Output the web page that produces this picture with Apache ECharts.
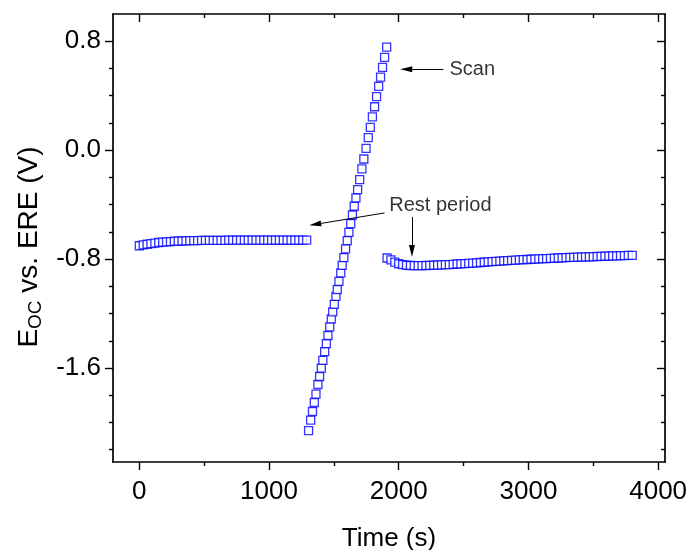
<!DOCTYPE html>
<html>
<head>
<meta charset="utf-8">
<script src="https://cdn.jsdelivr.net/npm/echarts@6/dist/echarts.min.js"></script>
<style>
html,body{margin:0;padding:0;background:#fff;}
#chart{width:691px;height:550px;}
</style>
</head>
<body>
<div id="chart"></div>
<script>
// ---- Data ----
const rest1Time = [0,30,60,90,120,150,180,210,240,270,300,330,360,390,420,450,480,510,540,570,600,630,660,690,720,750,780,810,840,870,900,930,960,990,1020,1050,1080,1110,1140,1170,1200,1230,1260,1290];
const rest1E = [-0.702,-0.696,-0.691,-0.686,-0.682,-0.678,-0.675,-0.673,-0.671,-0.669,-0.668,-0.667,-0.666,-0.665,-0.664,-0.664,-0.663,-0.663,-0.663,-0.662,-0.662,-0.662,-0.662,-0.661,-0.661,-0.661,-0.661,-0.661,-0.661,-0.660,-0.660,-0.660,-0.660,-0.660,-0.660,-0.660,-0.660,-0.660,-0.660,-0.660,-0.660,-0.660,-0.660,-0.660];

const scanTime = [1305,1321,1335,1349,1362,1377,1390,1403,1415,1429,1442,1454,1468,1480,1491,1503,1516,1526,1539,1553,1564,1577,1590,1603,1616,1630,1643,1657,1670,1683,1699,1716,1731,1748,1765,1781,1797,1814,1829,1845,1860,1875,1891,1907];
const scanE = [-2.059,-1.983,-1.919,-1.853,-1.792,-1.721,-1.662,-1.601,-1.543,-1.479,-1.420,-1.361,-1.298,-1.239,-1.188,-1.132,-1.073,-1.024,-0.963,-0.901,-0.846,-0.789,-0.725,-0.664,-0.603,-0.539,-0.476,-0.412,-0.351,-0.290,-0.217,-0.138,-0.065,0.013,0.092,0.167,0.244,0.319,0.393,0.468,0.537,0.608,0.681,0.757];

const rest2Time = [1910,1940,1970,2000,2030,2060,2090,2120,2150,2180,2210,2240,2270,2300,2330,2360,2390,2420,2450,2480,2510,2540,2570,2600,2630,2660,2690,2720,2750,2780,2810,2840,2870,2900,2930,2960,2990,3020,3050,3080,3110,3140,3170,3200,3230,3260,3290,3320,3350,3380,3410,3440,3470,3500,3530,3560,3590,3620,3650,3680,3710,3740,3770,3800];
const rest2E = [-0.792,-0.806,-0.822,-0.834,-0.841,-0.845,-0.847,-0.848,-0.848,-0.848,-0.847,-0.846,-0.845,-0.844,-0.843,-0.841,-0.840,-0.838,-0.836,-0.835,-0.833,-0.831,-0.829,-0.827,-0.825,-0.823,-0.821,-0.819,-0.817,-0.815,-0.813,-0.811,-0.809,-0.808,-0.806,-0.804,-0.803,-0.801,-0.800,-0.798,-0.797,-0.796,-0.794,-0.793,-0.792,-0.791,-0.789,-0.788,-0.787,-0.786,-0.785,-0.784,-0.783,-0.782,-0.781,-0.780,-0.779,-0.778,-0.777,-0.776,-0.775,-0.774,-0.773,-0.772];

// ---- Tick values ----
const xMajorTicks = [0,1000,2000,3000,4000];
const xMinorTicks = [500,1500,2500,3500];
const yMajorTicks = [-1.6,-0.8,0,0.8];
const yMinorTicks = [-2.2,-2.0,-1.8,-1.4,-1.2,-1.0,-0.6,-0.4,-0.2,0.2,0.4,0.6];

// ---- Annotations ----
const annotTexts = ['Scan','Rest period'];
const annotTextPos = [[2391,0.594],[1927,-0.407]];
const arrowLines = [
  [[2344,0.594],[2058,0.594]],
  [[1890,-0.461],[1356,-0.545]],
  [[2102,-0.490],[2102,-0.740]]
];

const X_MIN = -203, X_MAX = 4053, Y_MIN = -2.29, Y_MAX = 1.0;
const FONT = 'Liberation Sans, Arial, Helvetica, sans-serif';
const zip = (a,b) => a.map((v,i)=>[v,b[i]]);

function xAxisDef(pos, ticks, len, inside, main, labels) {
  return {
    type:'value', position:pos, min:X_MIN, max:X_MAX,
    axisLine:{show:main, onZero:false, lineStyle:{color:'#000', width:1.7}},
    axisTick:{show:true, inside:inside, length:len, customValues:ticks, lineStyle:{color:'#000', width:1.4}},
    axisLabel:{show:labels, customValues:ticks, fontSize:26, fontFamily:FONT, color:'#000', margin:17, formatter:v=>String(v)},
    splitLine:{show:false}
  };
}
function yAxisDef(pos, ticks, len, inside, main, labels) {
  return {
    type:'value', position:pos, min:Y_MIN, max:Y_MAX,
    axisLine:{show:main, onZero:false, lineStyle:{color:'#000', width:1.7}},
    axisTick:{show:true, inside:inside, length:len, customValues:ticks, lineStyle:{color:'#000', width:1.4}},
    axisLabel:{show:labels, customValues:ticks, fontSize:26, fontFamily:FONT, color:'#000', margin:12, formatter:v=>v.toFixed(1)},
    splitLine:{show:false}
  };
}

const xb = xAxisDef('bottom', xMajorTicks, 8, false, true, true);
xb.name = 'Time (s)';
xb.nameLocation = 'middle';
xb.nameGap = 64;
xb.nameTextStyle = {fontSize:26, fontFamily:FONT, color:'#000'};

const yl = yAxisDef('left', yMajorTicks, 8, false, true, true);
yl.name = '{m|E}{s|OC}{m| vs. ERE (V)}';
yl.nameLocation = 'middle';
yl.nameRotate = 90;
yl.nameGap = 68;
yl.nameTextStyle = {fontSize:28, fontFamily:FONT, color:'#000', padding:[0,18,0,0],
  rich:{
    m:{fontSize:28, fontFamily:FONT, color:'#000', lineHeight:32},
    s:{fontSize:19, fontFamily:FONT, color:'#000', lineHeight:17, verticalAlign:'bottom'}
  }};

const markerStyle = {color:'#fff', borderColor:'#0000ff', borderWidth:1.3};
function dataSeries(name, t, e) {
  return {
    name, type:'scatter', xAxisIndex:0, yAxisIndex:0,
    symbol:'rect', symbolSize:8, itemStyle:markerStyle,
    data: zip(t, e), animation:false, silent:true
  };
}

const arrowPath = 'path://M5,0 L10,20 L0,20 Z';

const option = {
  animation:false,
  backgroundColor:'#fff',
  grid:{left:113, right:26, top:14, bottom:88, outerBoundsMode:'none'},
  xAxis:[
    xb,
    xAxisDef('bottom', xMinorTicks, 4, false, false, false),
    xAxisDef('top', xMajorTicks, 8, true, true, false),
    xAxisDef('top', xMinorTicks, 4, true, false, false)
  ],
  yAxis:[
    yl,
    yAxisDef('left', yMinorTicks, 4, false, false, false),
    yAxisDef('right', yMajorTicks, 8, true, true, false),
    yAxisDef('right', yMinorTicks, 4, true, false, false)
  ],
  series:[
    dataSeries('Rest 1', rest1Time, rest1E),
    dataSeries('Scan', scanTime, scanE),
    dataSeries('Rest 2', rest2Time, rest2E),
    {
      name:'annot', type:'scatter', xAxisIndex:0, yAxisIndex:0,
      symbolSize:0, silent:true, animation:false,
      data: annotTextPos.map((p,i)=>({value:[p[0],p[1]], label:{formatter:annotTexts[i]}})),
      label:{show:true, position:'right', distance:0, fontSize:20, fontFamily:FONT, color:'#000'},
      markLine:{
        silent:true, animation:false,
        symbol:['none', arrowPath], symbolSize:[0,12],
        lineStyle:{color:'#000', width:1, type:'solid'},
        label:{show:false},
        data: arrowLines.map(l=>[{coord:l[0]},{coord:l[1], symbol:arrowPath, symbolSize:[6,12]}])
      }
    }
  ]
};

const chart = echarts.init(document.getElementById('chart'), null, {renderer:'canvas'});
chart.setOption(option);
</script>
</body>
</html>
